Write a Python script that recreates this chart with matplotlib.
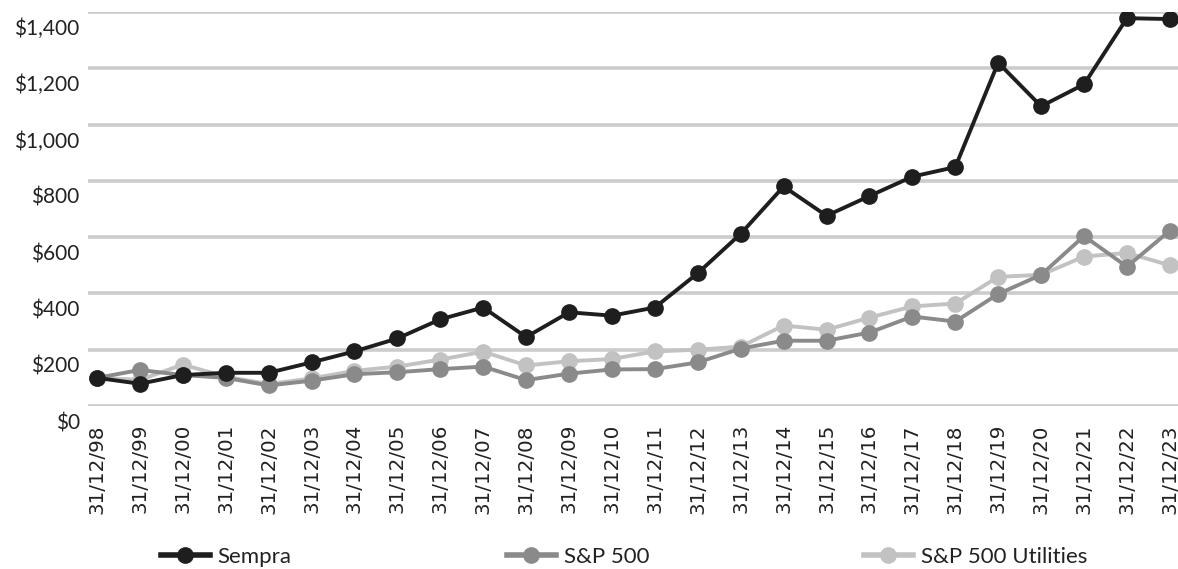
import matplotlib.pyplot as plt
import matplotlib.transforms as mtransforms
from matplotlib.lines import Line2D

# Data
dates = ['31/12/98', '31/12/99', '31/12/00', '31/12/01', '31/12/02', '31/12/03',
         '31/12/04', '31/12/05', '31/12/06', '31/12/07', '31/12/08', '31/12/09',
         '31/12/10', '31/12/11', '31/12/12', '31/12/13', '31/12/14', '31/12/15',
         '31/12/16', '31/12/17', '31/12/18', '31/12/19', '31/12/20', '31/12/21',
         '31/12/22', '31/12/23']
sempra = [100, 79, 110, 118, 118, 155, 194, 240, 308, 350, 245, 333, 321, 350,
          472, 612, 780, 676, 746, 815, 849, 1220, 1065, 1143, 1378, 1375]
sp500 = [100, 128, 110, 100, 73, 90, 113, 120, 131, 140, 92, 115, 130, 131,
         155, 204, 232, 232, 261, 318, 300, 398, 466, 604, 495, 623]
utilities = [100, 93, 147, 104, 78, 98, 125, 140, 165, 193, 144, 159, 167, 194,
             200, 211, 286, 271, 314, 354, 364, 459, 466, 531, 544, 500]
y_ticks = [0, 200, 400, 600, 800, 1000, 1200, 1400]
y_labels = ['$0', '$200', '$400', '$600', '$800', '$1,000', '$1,200', '$1,400']

c_sempra = '#1e1e1e'
c_sp = '#8a8a8a'
c_util = '#c2c2c2'

fig = plt.figure(figsize=(11.78, 5.69), dpi=100)
ax = fig.add_axes([88 / 1178, 1 - 406 / 569, 1 - 88 / 1178, (406 - 12) / 569])

x = list(range(len(dates)))
ax.plot(x, utilities, color=c_util, lw=2.8, marker='o', ms=11, zorder=3)
ax.plot(x, sp500, color=c_sp, lw=2.8, marker='o', ms=11, zorder=4)
ax.plot(x, sempra, color=c_sempra, lw=2.8, marker='o', ms=11, zorder=5)

ax.set_xlim(-0.21, len(dates) - 1 + 0.19)
ax.set_ylim(0, 1400)
ax.set_yticks(y_ticks)
ax.set_yticklabels(y_labels, fontfamily='Lato', fontsize=15, color='#222222')
ax.set_xticks(x)
ax.set_xticklabels(dates, rotation=90, fontfamily='DejaVu Sans', fontsize=14.3, color='#222222')
ax.tick_params(axis='both', length=0)
ax.tick_params(axis='x', pad=13)
ax.tick_params(axis='y', pad=6)

# y labels sit a little below their gridlines in the original
offset = mtransforms.ScaledTranslation(0, -15 / 100, fig.dpi_scale_trans)
for lbl in ax.get_yticklabels():
    lbl.set_transform(lbl.get_transform() + offset)

ax.grid(axis='y', color='#cccccc', lw=2.6, zorder=0)
ax.set_axisbelow(True)
for s in ax.spines.values():
    s.set_visible(False)

# legend: three separate entries spread under the chart
entries = [('Sempra', c_sempra, 161), ('S&P 500', c_sp, 507), ('S&P 500 Utilities', c_util, 864)]
for name, col, px in entries:
    h = Line2D([], [], color=col, lw=4, marker='o', ms=11)
    leg = fig.legend([h], [name], loc='center left', bbox_to_anchor=(px / 1178, 1 - 557 / 569),
                     frameon=False, handlelength=2.2, handletextpad=0.35, borderpad=0, borderaxespad=0,
                     prop={'family': 'Lato', 'size': 16})
    for t in leg.get_texts():
        t.set_color('#222222')

fig.savefig('out.png', dpi=100)
